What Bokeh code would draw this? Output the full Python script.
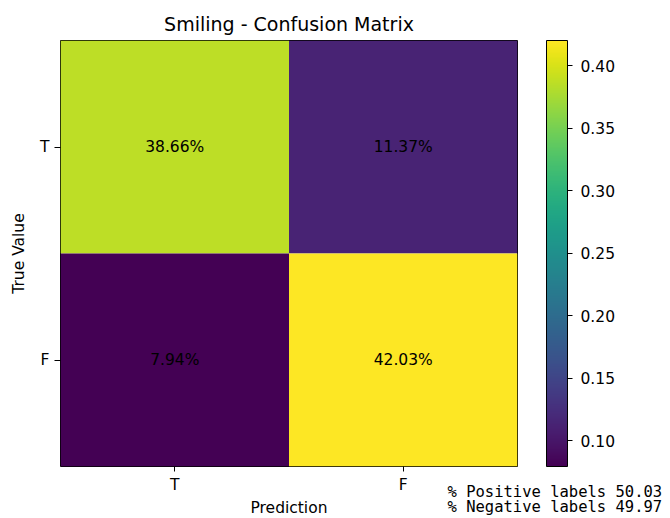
from bokeh.plotting import figure
from bokeh.models import (LinearColorMapper, ColorBar, FixedTicker, Range1d,
                          ColumnDataSource, PrintfTickFormatter)
from bokeh.palettes import Viridis256
from bokeh.core.properties import value
from bokeh.embed import file_html
from bokeh.resources import INLINE

# ---- data ----
title = "Smiling - Confusion Matrix"
class_labels = ["T", "F"]
true_idx = [0, 0, 1, 1]          # row (True Value)
pred_idx = [0, 1, 0, 1]          # column (Prediction)
rates = [0.3866, 0.1137, 0.0794, 0.4203]
pos_pct = 50.03
neg_pct = 49.97
cbar_ticks = [0.10, 0.15, 0.20, 0.25, 0.30, 0.35, 0.40]

FONT = "DejaVu Sans"
FS = "15.5px"

mapper = LinearColorMapper(palette=Viridis256, low=min(rates), high=max(rates))

src = ColumnDataSource(dict(
    x=pred_idx, y=true_idx, v=rates,
    txt=[f"{r*100:.2f}%" for r in rates],
))

p = figure(frame_width=457, frame_height=426,
           min_border_left=60, min_border_right=153,
           min_border_top=40, min_border_bottom=52,
           x_range=Range1d(-0.5, 1.5), y_range=Range1d(1.5, -0.5),
           output_backend="svg", toolbar_location=None, title=title)

p.rect(x="x", y="y", width=1, height=1, source=src,
       fill_color={"field": "v", "transform": mapper}, line_color=None)
p.text(x="x", y="y", text="txt", source=src, text_align="center",
       text_baseline="middle", text_font=value(FONT), text_font_size=FS,
       text_color="black")

p.grid.visible = False
p.outline_line_color = "black"
p.outline_line_width = 1
p.background_fill_color = "white"

p.title.text_font = FONT
p.title.text_font_size = "19px"
p.title.text_font_style = "normal"
p.title.align = "center"
p.title.text_color = "black"
p.title.standoff = 12

for ax, lab in ((p.xaxis[0], "Prediction"), (p.yaxis[0], "True Value")):
    ax.ticker = FixedTicker(ticks=[0, 1])
    ax.major_label_overrides = {0: class_labels[0], 1: class_labels[1]}
    ax.axis_label = lab
    ax.axis_label_text_font = FONT
    ax.axis_label_text_font_size = FS
    ax.axis_label_text_font_style = "normal"
    ax.axis_label_text_color = "black"
    ax.major_label_text_font = FONT
    ax.major_label_text_font_size = FS
    ax.major_label_text_color = "black"
    ax.major_tick_in = 0
    ax.major_tick_out = 5
    ax.major_tick_line_color = "black"
    ax.minor_tick_line_color = None
    ax.axis_line_color = None
    ax.major_label_standoff = 4
    ax.axis_label_standoff = 6
p.xaxis[0].axis_label_standoff = 2
p.yaxis[0].major_tick_out = 6
p.yaxis[0].major_label_standoff = 5
p.yaxis[0].axis_label_standoff = 9
p.yaxis[0].major_label_orientation = "horizontal"

cb = ColorBar(color_mapper=mapper, location=(486, 0), width=21, height=426,
              padding=0, margin=0,
              ticker=FixedTicker(ticks=cbar_ticks),
              formatter=PrintfTickFormatter(format="%.2f"),
              major_tick_in=0, major_tick_out=5, major_tick_line_color="black",
              minor_tick_line_color=None,
              bar_line_color="black", border_line_color=None,
              background_fill_alpha=0,
              major_label_text_font=FONT, major_label_text_font_size=FS,
              major_label_text_color="black",
              label_standoff=8)
p.add_layout(cb, "center")

# footnote texts (drawn as titles of invisible bars so they are not clipped)
notes = [f"% Positive labels {pos_pct:.2f}", f"% Negative labels {neg_pct:.2f}"]
for i, t in enumerate(notes):
    note = ColorBar(color_mapper=mapper, orientation="horizontal",
                    location=(387, -35 - 15 * i), width=210, height=1,
                    padding=0, margin=0, scale_alpha=0,
                    ticker=FixedTicker(ticks=[]),
                    major_tick_line_color=None, minor_tick_line_color=None,
                    major_label_text_alpha=0,
                    bar_line_color=None, border_line_color=None,
                    background_fill_alpha=0,
                    title=t, title_standoff=0,
                    title_text_font="DejaVu Sans Mono", title_text_font_size=FS,
                    title_text_font_style="normal", title_text_color="black")
    p.add_layout(note, "center")

open("out.html", "w").write(file_html(p, INLINE))
